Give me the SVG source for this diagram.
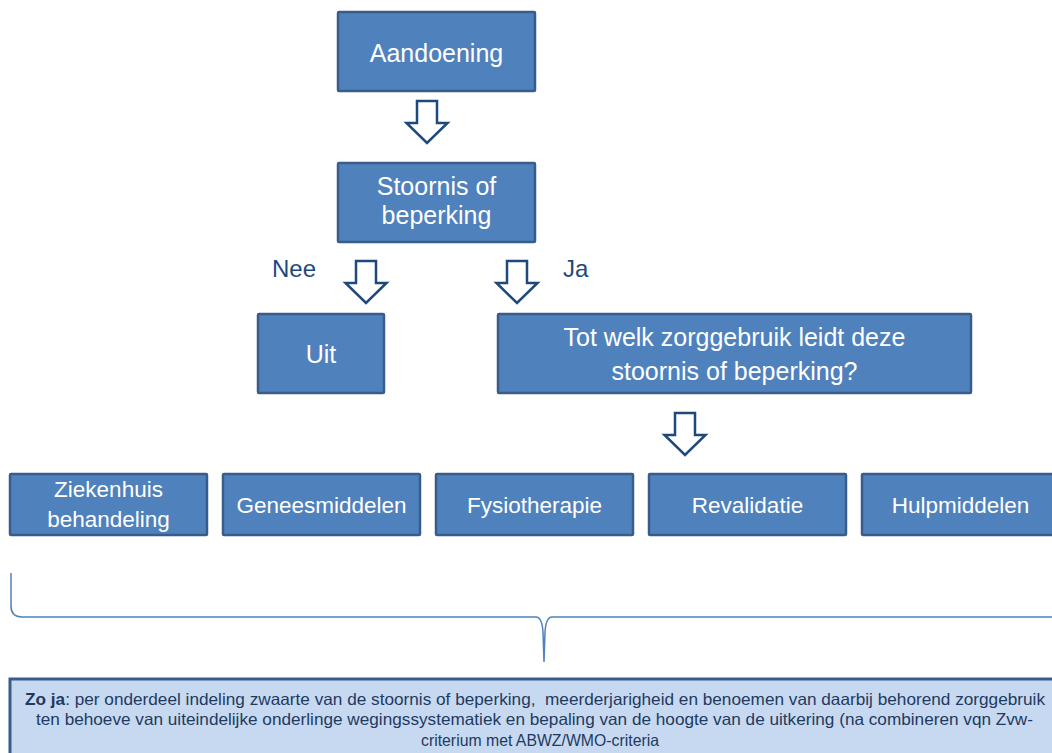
<svg xmlns="http://www.w3.org/2000/svg" xmlns:xlink="http://www.w3.org/1999/xlink" width="1052" height="753" viewBox="0 0 1052 753">
<style>
.box{fill:#4f81bd;stroke:#385d8a;stroke-width:2.5}
.t{font-family:"Liberation Sans",Arial,sans-serif;fill:#ffffff;text-anchor:middle}
.m{font-size:25px}
.s{font-size:22.5px}
.lbl{font-family:"Liberation Sans",Arial,sans-serif;font-size:24px;fill:#1f497d}
.arr{fill:#ffffff;stroke:#1f497d;stroke-width:2.5;stroke-linejoin:miter}
.brace{fill:none;stroke:#4f81bd;stroke-width:1.5}
.note{fill:#c6d9f1;stroke:#385d8a;stroke-width:3}
.nt{font-family:"Liberation Sans",Arial,sans-serif;font-size:16.5px;fill:#1f3a60;text-anchor:middle}
</style>
<defs>
<path id="arrow" d="M-10,0 H10 V22 H20.5 L0,42 L-20.5,22 H-10 Z"/>
</defs>
<rect width="1052" height="753" fill="#ffffff"/>

<g id="connectors">
<use xlink:href="#arrow" href="#arrow" class="arr" x="427" y="101"/>
<use xlink:href="#arrow" href="#arrow" class="arr" x="366" y="261"/>
<use xlink:href="#arrow" href="#arrow" class="arr" x="517" y="261"/>
<use xlink:href="#arrow" href="#arrow" class="arr" x="685" y="413"/>
<path class="brace" d="M11,573 L11,606 Q11,617 22,617 L536,617 Q542,617 543,632 L544,662 L545,632 Q546,617 552,617 L1060,617"/>
</g>

<g id="aandoening">
<rect class="box" x="338" y="12" width="197" height="79" rx="1"/>
<text class="t m" x="436.5" y="62" font-size="25.5">Aandoening</text>
</g>

<g id="stoornis">
<rect class="box" x="338" y="163" width="197" height="79" rx="1"/>
<text class="t m" x="436.5" y="195">Stoornis of</text>
<text class="t m" x="436.5" y="224">beperking</text>
</g>

<g id="nee-label"><text class="lbl" x="272" y="277">Nee</text></g>
<g id="ja-label"><text class="lbl" x="563" y="277">Ja</text></g>

<g id="uit">
<rect class="box" x="258" y="314" width="126" height="79" rx="1"/>
<text class="t m" x="321" y="363">Uit</text>
</g>

<g id="zorggebruik">
<rect class="box" x="498" y="314" width="473" height="79" rx="1"/>
<text class="t m" x="734.5" y="346">Tot welk zorggebruik leidt deze</text>
<text class="t m" x="734.5" y="380">stoornis of beperking?</text>
</g>

<g id="ziekenhuis">
<rect class="box" x="10" y="474" width="197" height="61" rx="1"/>
<text class="t s" x="108.5" y="497">Ziekenhuis</text>
<text class="t s" x="108.5" y="527">behandeling</text>
</g>

<g id="geneesmiddelen">
<rect class="box" x="223" y="474" width="197" height="61" rx="1"/>
<text class="t s" x="321.5" y="513">Geneesmiddelen</text>
</g>

<g id="fysiotherapie">
<rect class="box" x="436" y="474" width="197" height="61" rx="1"/>
<text class="t s" x="534.5" y="513">Fysiotherapie</text>
</g>

<g id="revalidatie">
<rect class="box" x="649" y="474" width="197" height="61" rx="1"/>
<text class="t s" x="747.5" y="513">Revalidatie</text>
</g>

<g id="hulpmiddelen">
<rect class="box" x="862" y="474" width="197" height="61" rx="1"/>
<text class="t s" x="960.5" y="513">Hulpmiddelen</text>
</g>

<g id="zo-ja">
<rect class="note" x="10" y="679" width="1060" height="100"/>
<text class="nt" x="535" y="705" textLength="1020" lengthAdjust="spacingAndGlyphs" xml:space="preserve"><tspan font-weight="bold">Zo ja</tspan>: per onderdeel indeling zwaarte van de stoornis of beperking,  meerderjarigheid en benoemen van daarbij behorend zorggebruik</text>
<text class="nt" x="534.5" y="725" textLength="997" lengthAdjust="spacingAndGlyphs">ten behoeve van uiteindelijke onderlinge wegingssystematiek en bepaling van de hoogte van de uitkering (na combineren vqn Zvw-</text>
<text class="nt" x="540" y="746" textLength="238" lengthAdjust="spacingAndGlyphs">criterium met ABWZ/WMO-criteria</text>
</g>
</svg>
